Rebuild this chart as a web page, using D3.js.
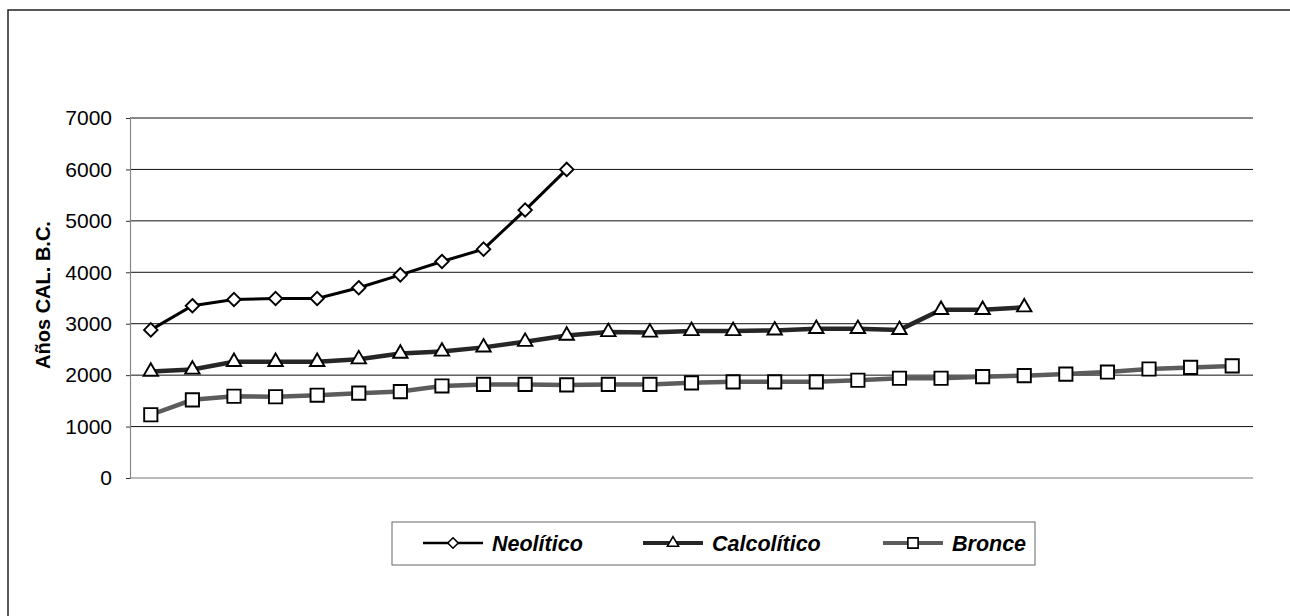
<!DOCTYPE html>
<html>
<head>
<meta charset="utf-8">
<script src="https://cdn.jsdelivr.net/npm/d3@7"></script>
<style>
  body { margin: 0; background: #fff; overflow: hidden; }
  svg { display: block; }
  text { font-family: Arial, "Liberation Sans", sans-serif; }
</style>
</head>
<body>
<svg id="chart" width="1290" height="616"></svg>
<script>
'use strict';

// categories (samples, no labels shown on the x axis)
var categories = [1, 2, 3, 4, 5, 6, 7, 8, 9, 10, 11, 12, 13, 14, 15, 16, 17, 18, 19, 20, 21, 22, 23, 24, 25, 26, 27];

var neolitico = [2880, 3350, 3470, 3490, 3490, 3700, 3950, 4210, 4450, 5210, 6000];
var calcolitico = [2070, 2110, 2260, 2260, 2260, 2310, 2420, 2460, 2540, 2650, 2770,
    2840, 2830, 2860, 2860, 2870, 2900, 2900, 2880, 3270, 3270, 3320];
var bronce = [1230, 1520, 1590, 1580, 1610, 1650, 1680, 1790, 1820, 1820, 1810,
    1820, 1820, 1850, 1870, 1870, 1870, 1900, 1940, 1940, 1970, 1990, 2020, 2060, 2120, 2150, 2180];

var yTicks = [0, 1000, 2000, 3000, 4000, 5000, 6000, 7000];
var seriesNames = ['Neolítico', 'Calcolítico', 'Bronce'];

var svg = d3.select('#chart');

// outer frame: only top and left edges show, the rest runs off the page
svg.append('path')
    .attr('d', 'M8,616 L8,10 L1290,10')
    .attr('fill', 'none')
    .attr('stroke', '#222')
    .attr('stroke-width', 1.5);

var plotLeft = 130, plotRight = 1253, plotTop = 118, plotBottom = 478;

var x = d3.scalePoint()
    .domain(categories)
    .range([plotLeft, plotRight])
    .padding(0.5);

var y = d3.scaleLinear()
    .domain([0, 7000])
    .range([plotBottom, plotTop]);

// gridlines
svg.append('g')
    .selectAll('line')
    .data(yTicks.filter(function(d) { return d > 0; }))
    .enter()
    .append('line')
    .attr('x1', plotLeft).attr('x2', plotRight)
    .attr('y1', function(d) { return y(d); })
    .attr('y2', function(d) { return y(d); })
    .attr('stroke', '#111')
    .attr('stroke-width', 1);

// x axis line (no labels)
svg.append('line')
    .attr('x1', plotLeft).attr('x2', plotRight)
    .attr('y1', y(0)).attr('y2', y(0))
    .attr('stroke', '#777')
    .attr('stroke-width', 1.2);

// y axis
var yAxis = svg.append('g')
    .attr('transform', 'translate(' + plotLeft + ',0)')
    .call(d3.axisLeft(y).tickValues(yTicks).tickSize(4).tickPadding(14).tickFormat(d3.format('d')));
yAxis.select('.domain').attr('stroke', '#888').attr('stroke-width', 1.2);
yAxis.selectAll('.tick line').attr('stroke', '#333');
yAxis.selectAll('.tick text')
    .attr('font-size', 21)
    .attr('font-family', 'Arial, "Liberation Sans", sans-serif')
    .attr('fill', '#000');

// y axis title
svg.append('text')
    .attr('transform', 'translate(50,295) rotate(-90)')
    .attr('text-anchor', 'middle')
    .attr('font-size', 20)
    .attr('font-weight', 'bold')
    .text('Años CAL. B.C.');

var line = d3.line()
    .x(function(d, i) { return x(categories[i]); })
    .y(function(d) { return y(d); });

var styles = [
    {data: neolitico, stroke: '#000', width: 3, symbol: d3.symbolDiamond2, size: 115},
    {data: calcolitico, stroke: '#262626', width: 4.5, symbol: d3.symbolTriangle, size: 90},
    {data: bronce, stroke: '#5c5c5c', width: 4.5, symbol: d3.symbolSquare, size: 175}
];

// draw bottom series first
styles.slice().reverse().forEach(function(s) {
    var g = svg.append('g');
    g.append('path')
        .datum(s.data)
        .attr('d', line)
        .attr('fill', 'none')
        .attr('stroke', s.stroke)
        .attr('stroke-width', s.width);
    g.selectAll('path.mark')
        .data(s.data)
        .enter()
        .append('path')
        .attr('class', 'mark')
        .attr('transform', function(d, i) { return 'translate(' + x(categories[i]) + ',' + y(d) + ')'; })
        .attr('d', d3.symbol().type(s.symbol).size(s.size))
        .attr('fill', '#fff')
        .attr('stroke', '#000')
        .attr('stroke-width', 1.9);
});

// legend
var legend = svg.append('g');
legend.append('rect')
    .attr('x', 392).attr('y', 522)
    .attr('width', 643).attr('height', 43)
    .attr('fill', '#fff')
    .attr('stroke', '#666')
    .attr('stroke-width', 1);

var legendX = [423, 643, 883];
styles.forEach(function(s, i) {
    var lx = legendX[i], ly = 543;
    legend.append('line')
        .attr('x1', lx).attr('x2', lx + 60)
        .attr('y1', ly).attr('y2', ly)
        .attr('stroke', s.stroke)
        .attr('stroke-width', s.width - 0.5);
    legend.append('path')
        .attr('transform', 'translate(' + (lx + 30) + ',' + ly + ')')
        .attr('d', d3.symbol().type(s.symbol).size(s.size * 0.6))
        .attr('fill', '#fff')
        .attr('stroke', '#000')
        .attr('stroke-width', 1.6);
    legend.append('text')
        .attr('x', lx + 69)
        .attr('y', ly + 7.5)
        .attr('font-size', 21.5)
        .attr('font-weight', 'bold')
        .attr('font-style', 'italic')
        .text(seriesNames[i]);
});
</script>
</body>
</html>
